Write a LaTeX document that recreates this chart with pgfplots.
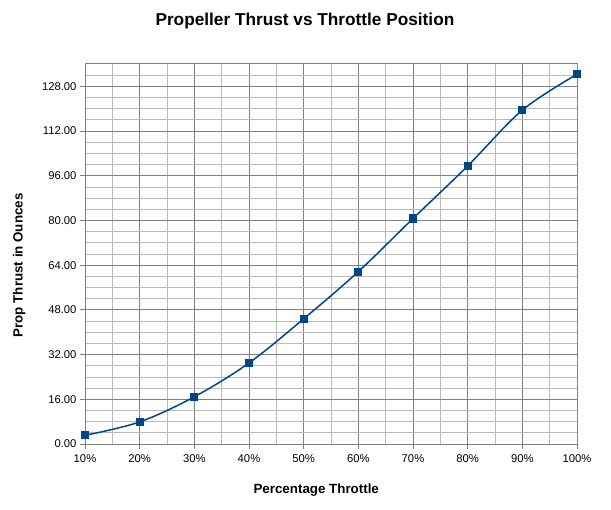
\documentclass[border=0pt]{standalone}
\usepackage{fontspec}
\setmainfont{Liberation Sans}
\usepackage{pgfplots}
\pgfplotsset{compat=1.18}
\definecolor{lineblue}{RGB}{0,69,134}
\definecolor{majgrid}{RGB}{128,128,128}
\definecolor{mingrid}{RGB}{185,185,185}
\begin{document}
\begin{tikzpicture}[x=1bp,y=1bp]
\path[use as bounding box] (-85,-66) rectangle (526,444);
\begin{axis}[
  at={(0,0)}, anchor=south west,
  scale only axis,
  width=492bp, height=380bp,
  xmin=10, xmax=100, ymin=0, ymax=136,
  xtick={10,20,...,100},
  ytick={0,16,...,128},
  minor xtick={15,25,...,95},
  minor ytick={4,8,...,132},
  grid=both,
  major grid style={majgrid, line width=0.8pt},
  minor grid style={mingrid, line width=0.8pt},
  axis line style={majgrid, line width=1pt},
  tick align=outside,
  major tick length=5bp,
  minor tick length=0pt,
  tick style={majgrid, line width=0.8pt},
  xtick pos=bottom, ytick pos=left,
  ticklabel style={font=\fontsize{11.3}{13}\selectfont},
  xticklabel style={yshift=-2bp},
  /pgf/number format/assume math mode=true,
  yticklabel style={/pgf/number format/.cd, fixed, fixed zerofill, precision=2},
  xticklabel={\pgfmathprintnumber{\tick}\%},
  title={Propeller Thrust vs Throttle Position},
  title style={font=\bfseries\fontsize{17.3}{20}\selectfont, at={(axis description cs:0.447,1.097)}, anchor=center},
  xlabel={Percentage Throttle},
  xlabel style={font=\bfseries\fontsize{13.4}{15}\selectfont, at={(axis description cs:0.47,-0.121)}, anchor=center},
  ylabel={Prop Thrust in Ounces},
  ylabel style={font=\bfseries\fontsize{13.4}{15}\selectfont, at={(axis description cs:-0.134,0.47)}, anchor=center},
]
\addplot[color=lineblue, line width=1.5pt, smooth, tension=0.55,
  mark=square*, mark size=3.3bp, mark options={fill=lineblue}] coordinates {
  (10,3.1)(20,7.9)(30,16.9)(40,29.0)(50,44.8)
  (60,61.7)(70,80.7)(80,99.5)(90,119.5)(100,132.3)
};
\end{axis}
\end{tikzpicture}
\end{document}
